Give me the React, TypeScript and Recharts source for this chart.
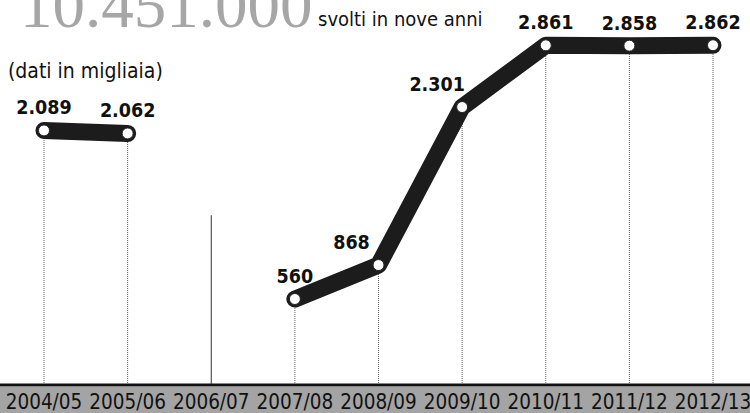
import React from 'react';
import { ComposedChart, Line, XAxis, YAxis, ReferenceLine, LabelList } from 'recharts';

const categories = ['2004/05', '2005/06', '2006/07', '2007/08', '2008/09', '2009/10', '2010/11', '2011/12', '2012/13'];
const values: (number | null)[] = [2089, 2062, null, 560, 868, 2301, 2861, 2858, 2862];
const valueLabels = ['2.089', '2.062', '', '560', '868', '2.301', '2.861', '2.858', '2.862'];
const missingMarkerTop = 1320; // height of the thin marker drawn for the year without data
const totalLabel = '10.451.000';
const subtitle = 'svolti in nove anni';
const unitNote = '(dati in migliaia)';

const Y_MIN = -220;
const Y_MAX = 3000;

const data = categories.map((c, i) => ({ cat: c, value: values[i], label: valueLabels[i] }));

const FONT = "'DejaVu Sans Condensed', 'Liberation Sans Narrow', 'Open Sans', sans-serif";

const labelShift: Record<string, number> = { '2008/09': -27, '2009/10': -25 };

const ValueLabel = (props: any) => {
  const { x, y, value, index } = props;
  if (value === '' || value == null) return null;
  const cat = categories[index];
  const dx = labelShift[cat] || 0;
  return (
    <text x={x + dx} y={y - 16} textAnchor="middle" fontFamily={FONT} fontWeight="bold" fontSize={19.5} fill="#111" style={{ fontStretch: 'condensed' }}>
      {value}
    </text>
  );
};

const Dot = (props: any) => {
  const { cx, cy, payload } = props;
  if (payload.value == null) return null;
  return <circle cx={cx} cy={cy} r={5.5} fill="#fff" stroke="#222" strokeWidth={1} />;
};

export default function App() {
  return (
    <div style={{ position: 'absolute', left: 0, top: 0, width: 750, height: 413, background: '#fff', overflow: 'hidden' }}>
      <div style={{ position: 'absolute', left: 0, top: 387, width: 750, height: 26, background: '#a4a4a4' }} />
      <svg width={750} height={413} style={{ position: 'absolute', left: 0, top: 0 }}>
        <text x={20} y={27} fontFamily="'Liberation Serif', serif" fontSize={65} fill="#a6a6a6">{totalLabel}</text>
        <text x={318} y={26} fontFamily={FONT} fontSize={20} fill="#111">{subtitle}</text>
        <text x={8} y={78} fontFamily={FONT} fontSize={21} fill="#111">{unitNote}</text>
      </svg>
      <div style={{ position: 'absolute', left: 0, top: 0 }}>
        <ComposedChart width={750} height={413} data={data} margin={{ top: 30, right: 0, bottom: 0, left: 0 }}>
          <XAxis
            dataKey="cat"
            scale="point"
            padding={{ left: 44, right: 37 }}
            height={28}
            axisLine={{ stroke: '#111', strokeWidth: 3 }}
            tickLine={false}
            interval={0}
            tick={{ fontFamily: FONT, fontSize: 20.5, fill: '#111' }}
            dy={1}
          />
          <YAxis hide domain={[Y_MIN, Y_MAX]} type="number" allowDataOverflow />
          {data.map((d) =>
            d.value != null ? (
              <ReferenceLine
                key={d.cat}
                segment={[{ x: d.cat, y: Y_MIN }, { x: d.cat, y: d.value }]}
                stroke="#666"
                strokeWidth={1}
                strokeDasharray="1 1"
              />
            ) : (
              <ReferenceLine
                key={d.cat}
                segment={[{ x: d.cat, y: Y_MIN }, { x: d.cat, y: missingMarkerTop }]}
                stroke="#333"
                strokeWidth={1}
              />
            )
          )}
          <Line
            dataKey="value"
            stroke="#1c1c1c"
            strokeWidth={17}
            strokeLinecap="round"
            strokeLinejoin="round"
            dot={<Dot />}
            activeDot={false}
            isAnimationActive={false}
            connectNulls={false}
          >
            <LabelList dataKey="label" content={<ValueLabel />} />
          </Line>
        </ComposedChart>
      </div>
    </div>
  );
}
